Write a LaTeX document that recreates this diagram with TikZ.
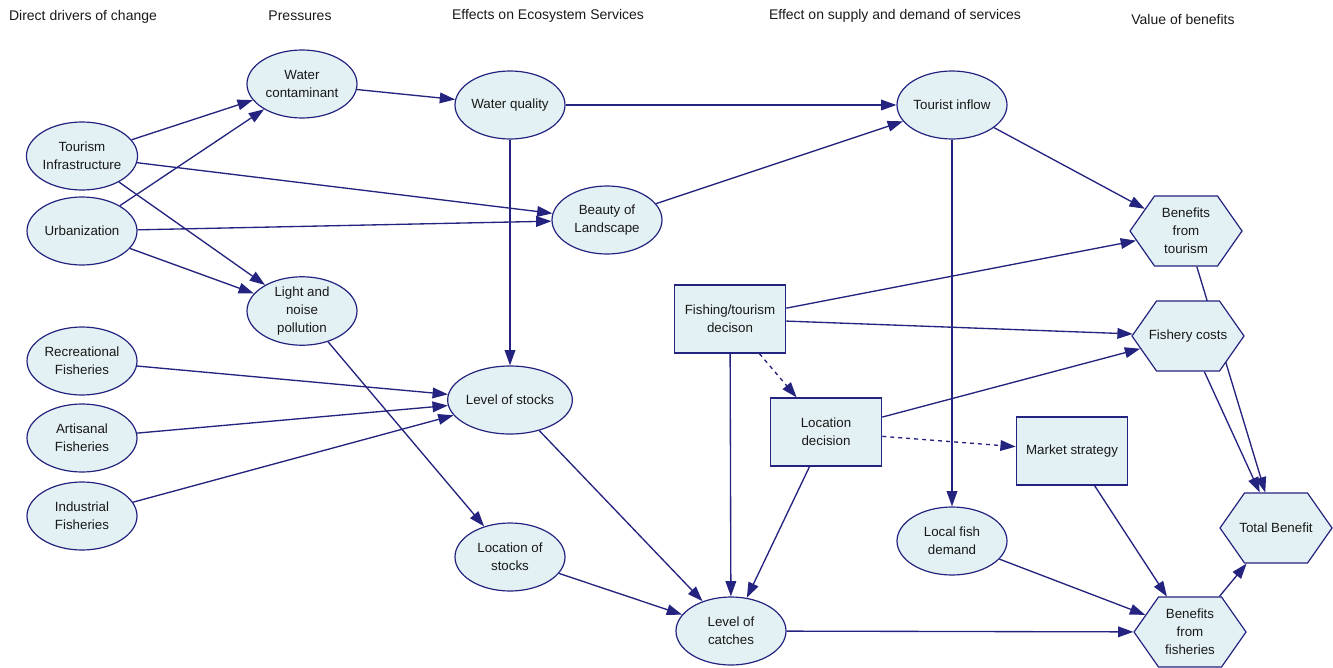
\documentclass[tikz,border=0pt]{standalone}
\usepackage{fontspec}
\setmainfont{Liberation Sans}
\usetikzlibrary{shapes.geometric,shapes.symbols,arrows.meta}
\definecolor{netline}{HTML}{24237F}
\definecolor{netfill}{HTML}{E4F1F4}
\pgfdeclarelayer{background}
\pgfsetlayers{background,main}
\begin{document}
\begin{tikzpicture}[x=0.75pt, y=-0.75pt,
    font=\fontsize{10}{13.5}\selectfont,
    every node/.style={text=black!90},
    header/.style={font=\fontsize{10.5}{12}\selectfont},
    chance/.style={ellipse, draw=netline, fill=netfill, line width=0.9pt,
        minimum width=82.5pt, minimum height=51pt, inner sep=0pt, align=center},
    decision/.style={rectangle, draw=netline, fill=netfill, line width=0.9pt,
        minimum width=83.5pt, minimum height=51pt, inner sep=0pt, align=center},
    utility/.style={signal, signal to=west and east, signal pointer angle=110,
        draw=netline, fill=netfill, line width=0.9pt,
        minimum width=84pt, minimum height=52.5pt, inner ysep=0pt, inner xsep=-12pt,
        align=center},
    link/.style={draw=netline, line width=1pt, -{Triangle[length=11.5pt,width=8pt]}},
    hint/.style={link, dashed}]
            \useasboundingbox (0,0) rectangle (1333,667);

            \node[header] (h1) at (83,17) {Direct drivers of change};
            \node[header] (h2) at (300,16) {Pressures};
            \node[header] (h3) at (548,16) {Effects on Ecosystem Services};
            \node[header] (h4) at (895,16) {Effect on supply and demand of services};
            \node[header] (h5) at (1183,19) {Value of benefits};

            \node[chance] (tour) at (82,156) {Tourism\\Infrastructure};
            \node[chance] (urb) at (82,231) {Urbanization};
            \node[chance] (rec) at (82,361) {Recreational\\Fisheries};
            \node[chance] (art) at (82,438) {Artisanal\\Fisheries};
            \node[chance] (ind) at (82,516) {Industrial\\Fisheries};

            \node[chance] (cont) at (302,84) {Water\\contaminant};
            \node[chance] (light) at (302,311) {Light and\\noise\\pollution};

            \node[chance] (wq) at (510,105) {Water quality};
            \node[chance] (beauty) at (607,220) {Beauty of\\Landscape};
            \node[chance] (stocks) at (510,400) {Level of stocks};
            \node[chance] (locst) at (510,557) {Location of\\stocks};
            \node[chance] (catch) at (731,631) {Level of\\catches};

            \node[decision] (fishdec) at (730,319) {Fishing/tourism\\decison};
            \node[decision] (locdec) at (826,432) {Location\\decision};
            \node[decision] (market) at (1072,451) {Market strategy};

            \node[chance] (inflow) at (952,105) {Tourist inflow};
            \node[chance] (demand) at (952,541) {Local fish\\demand};

            \node[utility] (btour) at (1186,231) {Benefits\\from\\tourism};
            \node[utility] (fcost) at (1188,336) {Fishery costs};
            \node[utility] (total) at (1276,528) {Total Benefit};
            \node[utility] (bfish) at (1190,632) {Benefits\\from\\fisheries};

            \begin{pgfonlayer}{background}
            \draw[link] (tour) -- (cont);
            \draw[link] (urb) -- (cont);
            \draw[link] (tour) -- (beauty);
            \draw[link] (tour) -- (light);
            \draw[link] (urb) -- (beauty);
            \draw[link] (urb) -- (light);
            \draw[link] (cont) -- (wq);
            \draw[link] (wq) -- (inflow);
            \draw[link] (wq) -- (stocks);
            \draw[link] (beauty) -- (inflow);
            \draw[link] (light) -- (locst);
            \draw[link] (rec) -- (stocks);
            \draw[link] (art) -- (stocks);
            \draw[link] (ind) -- (stocks);
            \draw[link] (stocks) -- (catch);
            \draw[link] (locst) -- (catch);
            \draw[link] (fishdec) -- (catch);
            \draw[link] (fishdec) -- (btour);
            \draw[link] (fishdec) -- (fcost);
            \draw[hint] (fishdec) -- (locdec);
            \draw[link] (locdec) -- (catch);
            \draw[link] (locdec) -- (fcost);
            \draw[hint] (locdec) -- (market);
            \draw[link] (inflow) -- (btour);
            \draw[link] (inflow) -- (demand);
            \draw[link] (demand) -- (bfish);
            \draw[link] (catch) -- (bfish);
            \draw[link] (market) -- (bfish);
            \draw[link] (bfish) -- (total);
            \draw[link] (btour) -- (total);
            \draw[link] (fcost) -- (total);
            \end{pgfonlayer}

        \end{tikzpicture}
\end{document}
